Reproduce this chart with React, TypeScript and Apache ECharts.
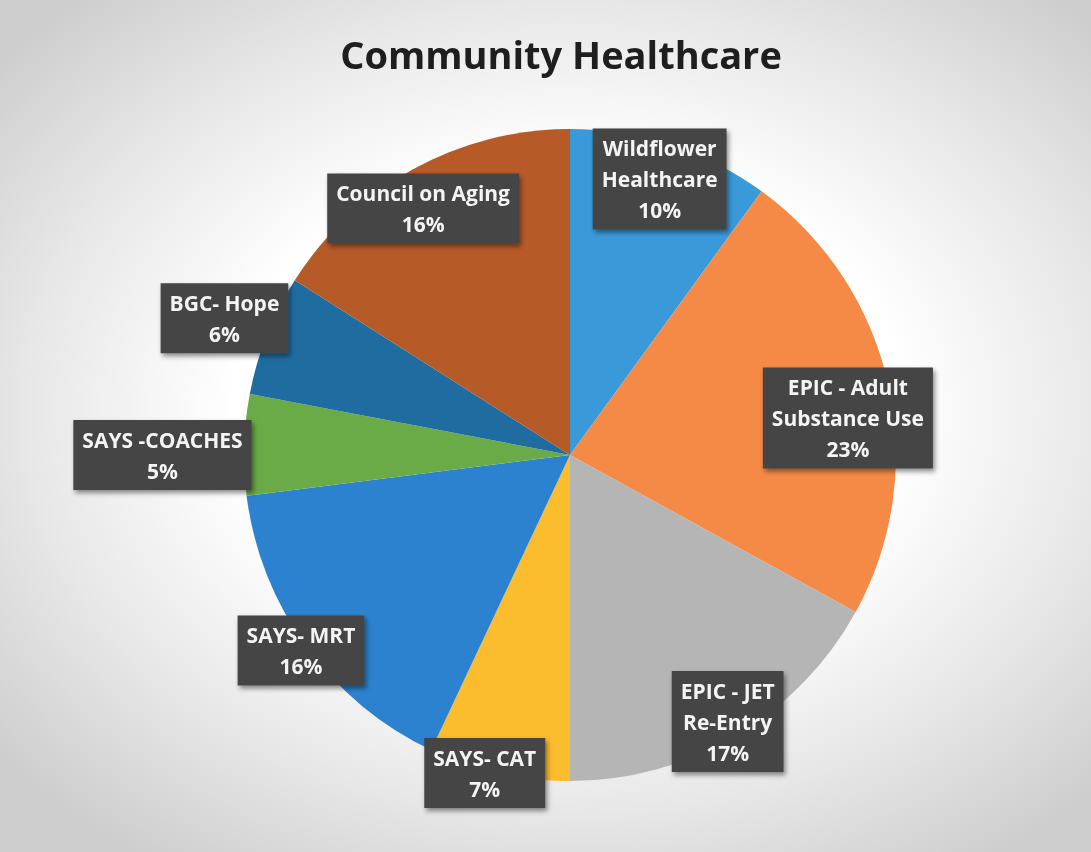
import React, { useEffect, useRef } from "react";
import * as echarts from "echarts";

const titleText = "Community Healthcare";
const categories = [
  "Wildflower\nHealthcare",
  "EPIC - Adult\nSubstance Use",
  "EPIC - JET\nRe-Entry",
  "SAYS- CAT",
  "SAYS- MRT",
  "SAYS -COACHES",
  "BGC- Hope",
  "Council on Aging",
];
const values = [10, 23, 17, 7, 16, 5, 6, 16];

const sliceColors = [
  "#3a9ad9",
  "#f48a46",
  "#b5b5b5",
  "#fbbc2d",
  "#2c82cf",
  "#6aab48",
  "#1f6ca1",
  "#b65a28",
];
// label placement (fraction of radius, angle shift in degrees)
const labelRadius = [0.89, 0.86, 0.95, 1.01, 1.02, 1.25, 1.14, 0.88];
const labelAngleShift = [0, 5, 0, 2.4, 0, -1.8, 0, -2];

const CX = 570;
const CY = 455;
const R = 326;

export default function App() {
  const ref = useRef<HTMLDivElement>(null);
  useEffect(() => {
    if (!ref.current) return;
    const chart = echarts.init(ref.current, undefined, { renderer: "svg" });
    const total = values.reduce((a, b) => a + b, 0);
    const mids: number[] = [];
    let acc = 0;
    values.forEach((v) => {
      mids.push(((acc + v / 2) / total) * 360);
      acc += v;
    });
    chart.setOption({
      animation: false,
      title: {
        text: titleText,
        left: 556,
        top: 30,
        textAlign: "center",
        textStyle: {
          fontFamily: "Open Sans",
          fontWeight: "bold",
          fontSize: 38,
          color: "#1e1e1e",
        },
      },
      series: [
        {
          type: "pie",
          center: [CX, CY],
          radius: R,
          startAngle: 90,
          clockwise: true,
          avoidLabelOverlap: false,
          silent: true,
          emphasis: { disabled: true },
          itemStyle: { borderWidth: 0 },
          data: values.map((v, i) => ({
            value: v,
            name: categories[i],
            itemStyle: { color: sliceColors[i] },
          })),
          label: {
            show: true,
            position: "inside",
            formatter: "{b}\n{d}%",
            fontFamily: "Open Sans",
            fontWeight: "bold",
            fontSize: 21,
            lineHeight: 31,
            color: "#f4f4f4",
            backgroundColor: "#444444",
            padding: [5, 9, 3, 9],
            shadowColor: "rgba(0,0,0,0.45)",
            shadowBlur: 5,
            shadowOffsetX: 2,
            shadowOffsetY: 3,
            textShadowColor: "transparent",
          },
          labelLine: { show: false },
          labelLayout: (p: any) => {
            const i = p.dataIndex;
            const a = ((mids[i] + labelAngleShift[i]) * Math.PI) / 180;
            const r = R * labelRadius[i];
            return {
              x: CX + r * Math.sin(a),
              y: CY - r * Math.cos(a),
              align: "center",
              verticalAlign: "middle",
              hideOverlap: false,
            };
          },
        },
      ],
    });
    return () => chart.dispose();
  }, []);
  return (
    <div
      ref={ref}
      style={{
        position: "fixed",
        left: 0,
        top: 0,
        width: 1091,
        height: 852,
        background:
          "radial-gradient(ellipse 68% 65% at 52% 48%, #ffffff 45%, #e8e8e8 72%, #cdcdcd 100%)",
      }}
    />
  );
}
